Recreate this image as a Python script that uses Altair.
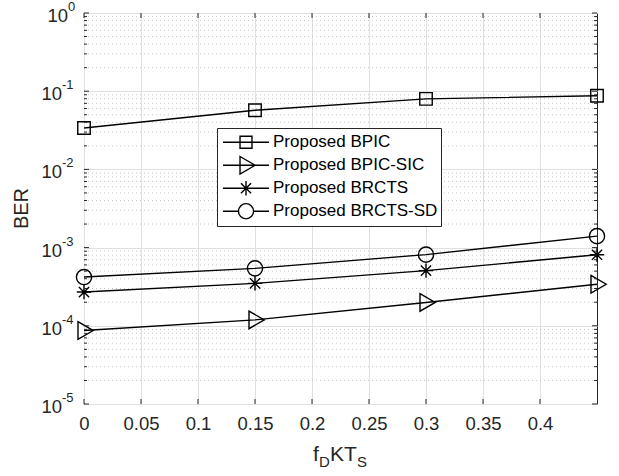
import altair as alt
import pandas as pd

# ---------------- data ----------------
x_vals = [0, 0.15, 0.3, 0.45]
series_names = ["Proposed BPIC", "Proposed BPIC-SIC", "Proposed BRCTS", "Proposed BRCTS-SD"]
ber_bpic = [0.0338, 0.057, 0.0797, 0.0875]
ber_bpic_sic = [8.7e-5, 1.19e-4, 1.99e-4, 3.4e-4]
ber_brcts = [2.7e-4, 3.49e-4, 5.07e-4, 8.1e-4]
ber_brcts_sd = [4.2e-4, 5.43e-4, 8.13e-4, 1.4e-3]

x_ticks = [0, 0.05, 0.1, 0.15, 0.2, 0.25, 0.3, 0.35, 0.4]
y_decades = [1e-5, 1e-4, 1e-3, 1e-2, 1e-1, 1]
y_exponents = ["-5", "-4", "-3", "-2", "-1", "0"]
y_minor = [m * 10.0 ** e for e in range(-5, 0) for m in range(2, 10)]

rows = []
for name, vals in zip(series_names, [ber_bpic, ber_bpic_sic, ber_brcts, ber_brcts_sd]):
    for xv, yv in zip(x_vals, vals):
        rows.append({"x": xv, "ber": yv, "series": name})
df = pd.DataFrame(rows)

# ---------------- style ----------------
W, H = 513, 391
FONT = "Liberation Sans"
AX = "#262626"
GRID = "#e0e0e0"
MINOR = "#c8c8c8"
LW = 1.4

marker_paths = [
    "M-0.78,-0.78H0.78V0.78H-0.78Z",
    "M-0.75,-1.1L1.15,0L-0.75,1.1Z",
    "M-0.9,0H0.9M0,-0.9V0.9M-0.64,-0.64L0.64,0.64M-0.64,0.64L0.64,-0.64",
    "M0.95,0A0.95,0.95,0,1,1,-0.95,0A0.95,0.95,0,1,1,0.95,0Z",
]
legend_paths = [
    "M-1,0H1M-0.26,-0.26H0.26V0.26H-0.26Z",
    "M-1,0H1M-0.26,-0.38L0.4,0L-0.26,0.38Z",
    "M-1,0H1M0,-0.31V0.31M-0.22,-0.22L0.22,0.22M-0.22,0.22L0.22,-0.22",
    "M-1,0H-0.33M0.33,0H1M0.33,0A0.33,0.33,0,1,1,-0.33,0A0.33,0.33,0,1,1,0.33,0Z",
]

xs = alt.Scale(domain=[0, 0.45], nice=False, zero=False)
ys = alt.Scale(type="log", domain=[1e-5, 1], nice=False)
xaxis = alt.Axis(
    values=x_ticks, format="~g", grid=True, gridColor=GRID, gridWidth=1,
    domain=False, ticks=False, labelFont=FONT, labelFontSize=18.5,
    labelColor=AX, labelPadding=10, title=None, labelFlush=False)
yaxis = alt.Axis(
    values=y_decades, grid=True, gridColor=GRID, gridWidth=1,
    labels=False, ticks=False, domain=False, title=None)


def X(field):
    return alt.X(field, scale=xs, axis=xaxis, title=None)


def Y(field):
    return alt.Y(field, scale=ys, axis=yaxis, title=None)


base = alt.Chart(df)

lines = base.mark_line(color="black", strokeWidth=LW).encode(
    x=X("x:Q"), y=Y("ber:Q"), detail="series:N")

points = base.mark_point(filled=False, color="black", strokeWidth=LW, opacity=1, size=256).encode(
    x=X("x:Q"), y=Y("ber:Q"),
    shape=alt.Shape("series:N", scale=alt.Scale(domain=series_names, range=marker_paths), legend=None),
)

legend_layer = base.transform_filter("false").mark_point(
    filled=False, color="black", strokeWidth=LW, opacity=1, size=2116).encode(
    x=X("x:Q"), y=Y("ber:Q"),
    shape=alt.Shape("series:N", scale=alt.Scale(domain=series_names, range=legend_paths),
                    legend=alt.Legend(
                        orient="none", legendX=133, legendY=115, direction="vertical",
                        title=None, symbolSize=2116, clipHeight=22.5, rowPadding=0,
                        padding=3, symbolOffset=2, labelOffset=3,
                        fillColor="white", strokeColor=AX, cornerRadius=0,
                        symbolStrokeColor="black", symbolStrokeWidth=LW,
                        symbolFillColor="transparent", symbolOpacity=1,
                        labelFont=FONT, labelFontSize=17, labelColor="black",
                        labelLimit=0)),
)

minor_grid = alt.Chart(pd.DataFrame({"v": y_minor})).mark_rule(
    color=MINOR, strokeWidth=1, strokeDash=[1, 3]).encode(y=Y("v:Q"))

xt = alt.Chart(pd.DataFrame({"v": x_ticks}))
xtick_b = xt.mark_rule(color=AX, strokeWidth=1).encode(
    x=X("v:Q"), y=alt.value(H), y2=alt.value(H - 5))
xtick_t = xt.mark_rule(color=AX, strokeWidth=1).encode(
    x=X("v:Q"), y=alt.value(0), y2=alt.value(5))

yt = alt.Chart(pd.DataFrame({"v": y_decades, "e": y_exponents}))
ytick_l = yt.mark_rule(color=AX, strokeWidth=1).encode(
    y=Y("v:Q"), x=alt.value(0), x2=alt.value(5))
ytick_r = yt.mark_rule(color=AX, strokeWidth=1).encode(
    y=Y("v:Q"), x=alt.value(W - 5), x2=alt.value(W))
ym = alt.Chart(pd.DataFrame({"v": y_minor}))
ymtick_l = ym.mark_rule(color=AX, strokeWidth=1).encode(
    y=Y("v:Q"), x=alt.value(0), x2=alt.value(3))
ymtick_r = ym.mark_rule(color=AX, strokeWidth=1).encode(
    y=Y("v:Q"), x=alt.value(W - 3), x2=alt.value(W))

ten_zero = yt.transform_filter("datum.e == '0'").mark_text(
    align="right", baseline="middle", font=FONT, fontSize=18.5, color=AX, dy=3).encode(
    y=Y("v:Q"), x=alt.value(-16), text=alt.value("10"))
exp_zero = yt.transform_filter("datum.e == '0'").mark_text(
    align="left", baseline="middle", font=FONT, fontSize=13, color=AX, dy=-6).encode(
    y=Y("v:Q"), x=alt.value(-16), text="e:N")
ten_neg = yt.transform_filter("datum.e != '0'").mark_text(
    align="right", baseline="middle", font=FONT, fontSize=18.5, color=AX, dy=3).encode(
    y=Y("v:Q"), x=alt.value(-22), text=alt.value("10"))
exp_neg = yt.transform_filter("datum.e != '0'").mark_text(
    align="left", baseline="middle", font=FONT, fontSize=13, color=AX, dy=-6).encode(
    y=Y("v:Q"), x=alt.value(-22), text="e:N")

# axis titles
one = pd.DataFrame({"a": [0]})


def txt(s, x, y, size, align="left"):
    return alt.Chart(one).mark_text(
        align=align, baseline="alphabetic", font=FONT, fontSize=size, color=AX).encode(
        x=alt.value(x), y=alt.value(y), text=alt.value(s))


title_parts = [
    txt("f", 229, H + 57, 21),
    txt("D", 235, H + 63, 15),
    txt("KT", 246, H + 57, 21),
    txt("S", 273, H + 63, 15),
]
ytitle = alt.Chart(one).mark_text(
    align="center", baseline="middle", font=FONT, fontSize=20, color=AX, angle=270).encode(
    x=alt.value(-62), y=alt.value(H / 2), text=alt.value("BER"))

chart = alt.layer(
    minor_grid, lines, points, legend_layer,
    xtick_b, xtick_t, ytick_l, ytick_r, ymtick_l, ymtick_r,
    ten_zero, exp_zero, ten_neg, exp_neg, ytitle, *title_parts,
).resolve_scale(shape="independent").properties(
    width=W, height=H,
    autosize=alt.AutoSizeParams(type="none"),
    padding={"left": 84, "top": 13, "right": 22, "bottom": 72},
    background="white",
).configure_view(stroke=AX, strokeWidth=1)

chart.save("out.html", embed_options={"renderer": "svg", "actions": False})
